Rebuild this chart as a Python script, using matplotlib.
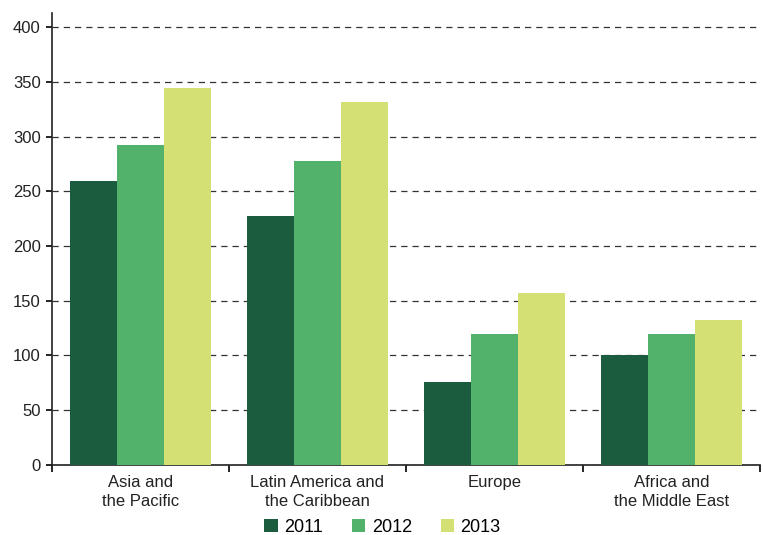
import matplotlib
matplotlib.use("Agg")
import matplotlib.pyplot as plt
import numpy as np

plt.rcParams['font.family'] = ['Liberation Sans', 'DejaVu Sans']

categories = ["Asia and\nthe Pacific", "Latin America and\nthe Caribbean", "Europe", "Africa and\nthe Middle East"]
years = ["2011", "2012", "2013"]
v2011 = [259, 227, 76, 100]
v2012 = [292, 278, 120, 120]
v2013 = [344, 332, 157, 132]
colors = ["#1a5c3d", "#52b26b", "#d5e074"]

fig = plt.figure(figsize=(7.63, 5.35), dpi=100)
ax = fig.add_axes([0.068, 0.131, 0.928, 0.845])

x = np.arange(len(categories))
w = 0.265
for i, (vals, c, lab) in enumerate(zip([v2011, v2012, v2013], colors, years)):
    ax.bar(x + (i - 1) * w, vals, width=w, color=c, label=lab, zorder=3, linewidth=0)

ax.set_xlim(-0.5, len(categories) - 0.5)
ax.set_ylim(0, 413)
ax.set_yticks(np.arange(0, 401, 50))
ax.yaxis.grid(True, linestyle=(0, (5, 4)), color='#333333', linewidth=0.9, zorder=0)
ax.set_axisbelow(True)

ax.set_xticks(x)
ax.set_xticklabels(categories, fontsize=12, color='#222222', linespacing=1.35)
ax.tick_params(axis='x', length=0, pad=7)
ax.set_xticks(np.arange(-0.5, len(categories), 1), minor=True)
ax.tick_params(axis='x', which='minor', length=5, width=1.2, direction='out')
ax.tick_params(axis='y', length=4, width=1.2, labelsize=12, labelcolor='#222222', pad=4)

for s in ['top', 'right']:
    ax.spines[s].set_visible(False)
for s in ['left', 'bottom']:
    ax.spines[s].set_linewidth(1.2)
    ax.spines[s].set_color('#222222')

ax.legend(loc='center', bbox_to_anchor=(0.467, -0.138), ncol=3, frameon=False,
          fontsize=13, handlelength=0.75, handleheight=0.75, handletextpad=0.35,
          columnspacing=1.6, borderpad=0, borderaxespad=0)

fig.savefig("out.png", dpi=100)
